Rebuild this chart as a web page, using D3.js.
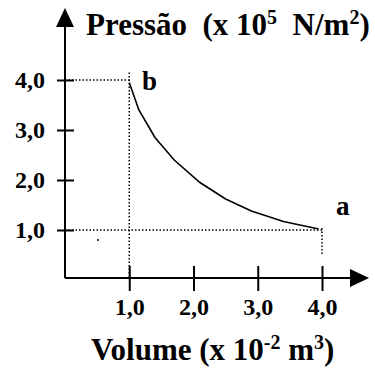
<!DOCTYPE html>
<html>
<head>
<meta charset="utf-8">
<script src="https://cdn.jsdelivr.net/npm/d3@7"></script>
<style>
  body { margin: 0; background: #fff; }
  svg text { font-family: "Liberation Serif", "Times New Roman", serif; font-weight: bold; fill: #000; }
</style>
</head>
<body>
<div id="chart"></div>
<script>
const volume   = [1.0, 1.15, 1.4, 1.7, 2.1, 2.5, 2.9, 3.4, 3.95];
const pressure = [3.95, 3.4, 2.85, 2.4, 1.95, 1.62, 1.38, 1.17, 1.02];
const xTicks = [1, 2, 3, 4];
const yTicks = [1, 2, 3, 4];
// dotted guide lines [v1, p1, v2, p2]
const guides = [
    [0, 4, 1, 4],
    [1, 4.15, 1, 0],
    [0, 1, 4, 1],
    [4, 1.04, 4, 0.5]
];

const width = 375;
const height = 370;

const svg = d3.select("#chart").append("svg")
    .attr("width", width)
    .attr("height", height)

const x = d3.scaleLinear().domain([0, 4]).range([65, 322])
const y = d3.scaleLinear().domain([0, 4]).range([280, 80])
const axisY = 278

const fmt = (d) => d.toFixed(1).replace(".", ",")

// dotted guides
svg.append("g")
    .selectAll("line")
    .data(guides)
    .join("line")
    .attr("x1", (d) => x(d[0]))
    .attr("y1", (d) => Math.min(y(d[1]), axisY))
    .attr("x2", (d) => x(d[2]))
    .attr("y2", (d) => Math.min(y(d[3]), axisY))
    .attr("stroke", "black")
    .attr("stroke-width", 1.5)
    .attr("stroke-dasharray", "1.5,2")

// y axis
const yAxis = svg.append("g")
    .attr("transform", `translate(${x(0)},0)`)
    .call(d3.axisLeft(y).tickValues(yTicks).tickFormat(fmt).tickSize(0).tickPadding(20))
yAxis.select(".domain").remove()
yAxis.selectAll(".tick line")
    .attr("x1", -8).attr("x2", 9)
    .attr("stroke", "black").attr("stroke-width", 2)
yAxis.selectAll(".tick text").style("font-size", "24px")

// x axis
const xAxis = svg.append("g")
    .attr("transform", `translate(0,${axisY})`)
    .call(d3.axisBottom(x).tickValues(xTicks).tickFormat(fmt).tickSize(0).tickPadding(20))
xAxis.select(".domain").remove()
xAxis.selectAll(".tick line")
    .attr("y1", -12).attr("y2", 13)
    .attr("stroke", "black").attr("stroke-width", 2)
xAxis.selectAll(".tick text").style("font-size", "24px")

// axis lines with arrow heads
svg.append("line")
    .attr("x1", x(0)).attr("y1", axisY)
    .attr("x2", x(0)).attr("y2", 20)
    .attr("stroke", "black").attr("stroke-width", 2)
svg.append("line")
    .attr("x1", x(0)).attr("y1", axisY)
    .attr("x2", 355).attr("y2", axisY)
    .attr("stroke", "black").attr("stroke-width", 2)
svg.append("path")
    .attr("d", `M${x(0)},8 L${x(0) - 9},27 L${x(0) + 9},27 Z`)
    .attr("fill", "black")
svg.append("path")
    .attr("d", `M369,${axisY} L350,${axisY - 9} L350,${axisY + 9} Z`)
    .attr("fill", "black")

// curve
const pts = volume.map((v, i) => [v, pressure[i]])
svg.append("path")
    .datum(pts)
    .attr("d", d3.line().x((d) => x(d[0])).y((d) => y(d[1])))
    .attr("fill", "none")
    .attr("stroke", "black")
    .attr("stroke-width", 1.6)

// stray dot from the original figure
svg.append("circle").attr("cx", 98).attr("cy", 240).attr("r", 1).attr("fill", "black")

// point labels
svg.append("text").attr("x", 142).attr("y", 90).style("font-size", "27px").text("b")
svg.append("text").attr("x", 336).attr("y", 215).style("font-size", "27px").text("a")

// axis titles
const title = svg.append("text")
    .attr("x", 86).attr("y", 35)
    .style("font-size", "31px")
    .style("white-space", "pre")
title.append("tspan").text("Pressão  (x 10")
title.append("tspan").attr("dy", -11).style("font-size", "20px").text("5")
title.append("tspan").attr("dy", 11).text("  N/m")
title.append("tspan").attr("dy", -11).style("font-size", "20px").text("2")
title.append("tspan").attr("dy", 11).text(")")

const xTitle = svg.append("text")
    .attr("x", 91).attr("y", 360)
    .style("font-size", "31px")
    .style("white-space", "pre")
xTitle.append("tspan").text("Volume (x 10")
xTitle.append("tspan").attr("dy", -11).style("font-size", "20px").text("-2")
xTitle.append("tspan").attr("dy", 11).text(" m")
xTitle.append("tspan").attr("dy", -11).style("font-size", "20px").text("3")
xTitle.append("tspan").attr("dy", 11).text(")")
</script>
</body>
</html>
